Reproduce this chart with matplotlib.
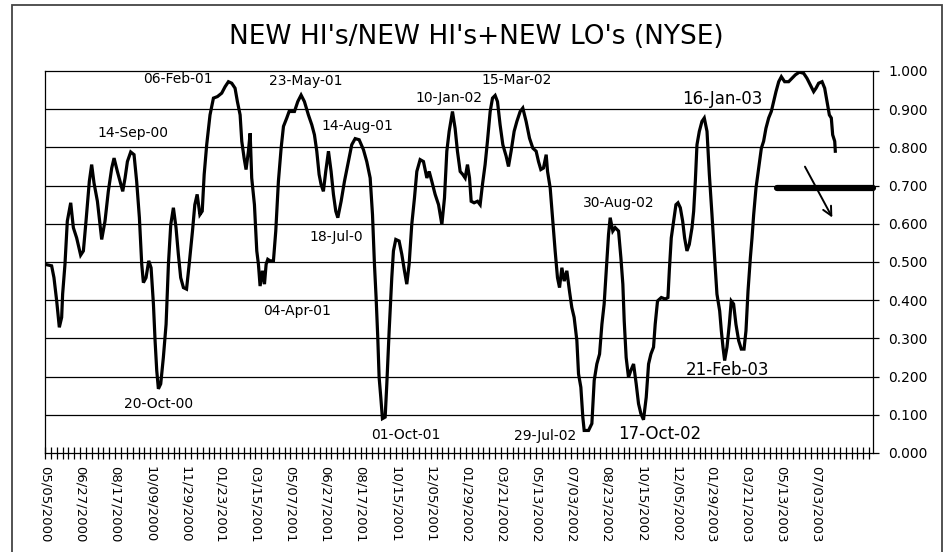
import matplotlib
matplotlib.use('Agg')
import matplotlib.pyplot as plt
from matplotlib.patches import Rectangle
from matplotlib.ticker import FixedLocator, MultipleLocator, FormatStrFormatter

# trading-day index (0 = 05/05/2000) and ratio
seg_2000 = [(0, 0.494), (6.8, 0.490), (9.2, 0.459), (12.0, 0.398), (14.7, 0.329), (17.1, 0.355),
            (18.1, 0.416), (20.5, 0.494), (22.9, 0.607), (26.4, 0.655), (29.1, 0.590), (32.5, 0.563),
            (36.6, 0.518), (39.4, 0.529), (42.1, 0.607), (45.5, 0.711), (47.9, 0.755), (50.3, 0.707),
            (53.8, 0.659), (58.2, 0.559), (61.6, 0.607), (65.0, 0.685), (68.5, 0.746), (70.9, 0.772),
            (74.3, 0.737), (77.0, 0.711), (79.8, 0.685), (82.2, 0.720), (84.6, 0.763), (88.0, 0.788),
            (91.4, 0.781), (94.1, 0.711), (96.9, 0.616), (99.3, 0.494), (101.0, 0.446), (103.7, 0.459),
            (106.5, 0.503), (108.9, 0.485), (111.3, 0.390), (113.0, 0.294), (114.7, 0.216), (116.4, 0.168),
            (118.8, 0.181), (121.5, 0.250), (124.3, 0.337), (126.7, 0.494), (129.1, 0.598), (131.8, 0.642),
            (134.5, 0.590), (136.9, 0.520), (139.3, 0.459), (142.1, 0.433), (145.3, 0.429), (148.0, 0.494),
            (151.4, 0.581), (153.8, 0.650), (156.2, 0.677), (159.0, 0.624), (161.4, 0.633), (163.4, 0.729),
            (166.0, 0.807), (169.4, 0.885), (172.9, 0.929), (177.0, 0.933), (181.4, 0.942), (184.9, 0.959),
            (188.3, 0.972), (191.7, 0.968), (195.1, 0.955), (197.5, 0.920), (200.3, 0.885), (202.0, 0.816),
            (204.4, 0.772), (206.4, 0.742), (208.8, 0.790), (210.6, 0.837)]

seg_2001 = [(212.2, 0.720), (215.0, 0.650), (217.4, 0.529), (219.1, 0.494), (220.8, 0.437), (223.2, 0.477),
            (225.3, 0.442), (227.0, 0.494), (228.7, 0.507), (231.1, 0.503), (234.5, 0.503), (236.9, 0.581),
            (239.6, 0.711), (242.4, 0.798), (244.8, 0.855), (248.2, 0.877), (250.6, 0.894), (256.1, 0.894),
            (259.5, 0.920), (262.9, 0.937), (266.3, 0.920), (270.4, 0.885), (273.9, 0.859), (276.6, 0.833),
            (279.0, 0.790), (281.4, 0.729), (283.4, 0.703), (285.8, 0.685), (288.2, 0.737), (291.0, 0.790),
            (293.7, 0.737), (296.1, 0.677), (298.5, 0.633), (300.6, 0.616), (304.0, 0.659), (307.4, 0.711),
            (311.5, 0.763), (314.9, 0.807), (318.4, 0.823), (322.5, 0.820), (326.9, 0.794), (330.3, 0.763),
            (333.8, 0.720), (336.2, 0.624), (338.2, 0.494), (339.9, 0.407), (341.6, 0.303), (343.0, 0.198),
            (344.7, 0.146), (346.4, 0.090), (349.2, 0.094), (350.9, 0.181), (353.3, 0.320), (356.0, 0.459),
            (357.7, 0.529), (360.1, 0.559), (363.5, 0.555), (366.3, 0.520), (369.0, 0.477), (371.4, 0.442),
            (373.8, 0.494), (376.5, 0.598), (379.3, 0.668), (381.7, 0.737), (385.1, 0.768), (388.5, 0.763),
            (392.0, 0.720), (394.4, 0.737), (397.1, 0.711), (400.5, 0.677), (404.0, 0.650), (407.4, 0.598),
            (410.1, 0.668), (412.5, 0.790), (414.9, 0.842), (418.3, 0.894)]

seg_2002 = [(421.0, 0.850), (423.4, 0.790), (426.2, 0.737), (428.9, 0.729), (431.3, 0.720), (433.7, 0.755),
            (435.8, 0.720), (437.5, 0.659), (440.5, 0.655), (444.0, 0.659), (446.7, 0.650), (449.1, 0.703),
            (451.8, 0.755), (454.2, 0.816), (457.0, 0.894), (459.4, 0.929), (462.1, 0.936), (464.5, 0.920),
            (467.2, 0.859), (470.0, 0.807), (473.4, 0.777), (475.8, 0.750), (478.5, 0.790), (481.6, 0.842),
            (484.4, 0.868), (487.8, 0.894), (490.5, 0.903), (493.9, 0.868), (497.4, 0.824), (500.8, 0.798),
            (504.2, 0.790), (506.6, 0.763), (509.0, 0.742), (511.7, 0.746), (514.5, 0.781), (515.9, 0.737),
            (518.6, 0.694), (521.3, 0.607), (523.7, 0.529), (526.1, 0.459), (528.2, 0.433), (530.6, 0.485),
            (533.0, 0.450), (535.7, 0.477), (538.4, 0.424), (540.8, 0.381), (543.2, 0.355), (546.0, 0.294),
            (547.7, 0.207), (550.1, 0.172), (552.1, 0.094), (553.5, 0.059), (558.0, 0.059), (561.4, 0.077),
            (563.8, 0.190), (566.5, 0.233), (569.3, 0.259), (571.7, 0.337), (574.0, 0.390), (576.1, 0.477),
            (578.5, 0.572), (580.2, 0.616), (582.9, 0.581), (585.3, 0.590), (588.8, 0.581), (591.2, 0.511),
            (593.2, 0.442), (594.6, 0.346), (596.6, 0.250), (599.0, 0.198), (601.4, 0.216), (604.2, 0.233),
            (606.9, 0.181), (609.3, 0.129), (611.7, 0.103), (614.4, 0.087), (617.2, 0.146), (619.6, 0.233),
            (622.0, 0.259), (624.7, 0.277), (626.4, 0.337), (628.8, 0.398)]

seg_2003 = [(632.7, 0.407), (636.8, 0.403), (639.5, 0.407), (640.9, 0.477), (642.9, 0.563), (645.3, 0.607),
            (647.7, 0.650), (649.8, 0.655), (652.2, 0.642), (654.6, 0.607), (656.6, 0.563), (659.0, 0.529),
            (661.4, 0.546), (664.2, 0.590), (665.9, 0.633), (667.6, 0.711), (669.3, 0.807), (671.7, 0.842),
            (674.4, 0.868), (676.8, 0.877), (679.6, 0.842), (682.0, 0.729), (684.7, 0.624), (687.4, 0.511),
            (689.8, 0.416), (692.6, 0.372), (694.3, 0.320), (696.0, 0.277), (697.7, 0.242), (700.1, 0.277),
            (702.5, 0.337), (704.5, 0.398), (706.9, 0.390), (709.3, 0.337), (712.1, 0.294), (714.8, 0.272),
            (717.6, 0.272), (719.6, 0.320), (721.7, 0.424), (724.1, 0.511), (725.8, 0.563), (727.5, 0.624),
            (729.9, 0.694), (732.6, 0.746), (735.4, 0.798), (737.7, 0.816), (740.1, 0.850), (742.9, 0.877),
            (745.6, 0.894), (748.0, 0.920), (750.4, 0.946), (753.2, 0.972), (755.9, 0.985), (759.3, 0.972),
            (763.4, 0.972), (766.8, 0.981), (770.3, 0.990), (774.4, 0.997), (778.8, 0.994), (782.2, 0.981),
            (785.7, 0.963), (789.1, 0.946), (791.5, 0.955), (794.2, 0.968), (797.7, 0.972), (800.4, 0.955),
            (802.8, 0.920), (805.2, 0.885), (807.2, 0.877), (808.6, 0.833), (810.7, 0.816), (811.3, 0.790)]

date_labels = ['05/05/2000', '06/27/2000', '08/17/2000', '10/09/2000', '11/29/2000', '01/23/2001',
               '03/15/2001', '05/07/2001', '06/27/2001', '08/17/2001', '10/15/2001', '12/05/2001',
               '01/29/2002', '03/21/2002', '05/13/2002', '07/03/2002', '08/23/2002', '10/15/2002',
               '12/05/2002', '01/29/2003', '03/21/2003', '05/13/2003', '07/03/2003']

# (text, day index, value, large font?)
notes = [('14-Sep-00', 90.4, 0.838, False), ('06-Feb-01', 136.6, 0.979, False),
         ('23-May-01', 268.0, 0.974, False), ('14-Aug-01', 320.4, 0.856, False),
         ('10-Jan-02', 414.9, 0.929, False), ('15-Mar-02', 483.7, 0.976, False),
         ('16-Jan-03', 695.3, 0.927, True), ('30-Aug-02', 588.5, 0.654, False),
         ('18-Jul-0', 298.9, 0.565, False), ('04-Apr-01', 258.8, 0.372, False),
         ('20-Oct-00', 116.1, 0.128, False), ('01-Oct-01', 370.7, 0.047, False),
         ('29-Jul-02', 513.5, 0.045, False), ('17-Oct-02', 630.6, 0.050, True),
         ('21-Feb-03', 700.4, 0.217, True)]

support_level = 0.695
support_start = 751.5
arrow_from = (778.8, 0.756)
arrow_to = (809.6, 0.610)

plt.rcParams['font.family'] = ['DejaVu Sans']


def main():
    points = seg_2000 + seg_2001 + seg_2002 + seg_2003
    days = [p[0] for p in points]
    ratio = [p[1] for p in points]

    fig = plt.figure(figsize=(9.46, 5.52), dpi=100)
    ax = fig.add_axes([45 / 946, 1 - 453 / 552, 828 / 946, 382 / 552])

    # outer chart frame (bottom edge falls off the picture)
    fig.add_artist(Rectangle((12 / 946, -0.05), 930 / 946, 1.041, transform=fig.transFigure,
                             fill=False, edgecolor='#444444', lw=1.3))

    ax.set_xlim(0, 850)
    ax.set_ylim(0, 1.0)
    for v in [0.1 * k for k in range(1, 10)]:
        ax.axhline(v, color='black', lw=0.9, zorder=1)

    ax.plot(days, ratio, color='black', lw=2.3, solid_joinstyle='miter', zorder=3)

    ax.plot([support_start, 850], [support_level, support_level], color='black', lw=4.5,
            solid_capstyle='round', zorder=4, clip_on=False)
    ax.annotate('', xy=arrow_to, xytext=arrow_from,
                arrowprops=dict(arrowstyle='->', color='black', lw=1.4, mutation_scale=16))

    for text, x, y, big in notes:
        ax.text(x, y, text, ha='center', va='center', fontsize=12 if big else 10,
                color='black', zorder=5)

    fig.text(476 / 946, 1 - 37 / 552, "NEW HI's/NEW HI's+NEW LO's (NYSE)", ha='center', va='center',
             fontsize=19)

    ax.xaxis.set_major_locator(FixedLocator([36 * k for k in range(len(date_labels))]))
    ax.set_xticklabels(date_labels, rotation=270, fontsize=9.5)
    ax.xaxis.set_minor_locator(MultipleLocator(6))
    ax.tick_params(axis='x', which='both', direction='inout', length=8, width=0.9, pad=5)

    ax.yaxis.set_major_locator(MultipleLocator(0.1))
    ax.yaxis.set_major_formatter(FormatStrFormatter('%.3f'))
    ax.yaxis.tick_right()
    ax.tick_params(axis='y', direction='out', length=4, width=0.9, labelsize=10, pad=7)

    for side in ['top', 'left', 'right', 'bottom']:
        ax.spines[side].set_linewidth(0.9)
        ax.spines[side].set_color('black')

    fig.savefig('out.png', dpi=100)


if __name__ == "__main__":
    main()
